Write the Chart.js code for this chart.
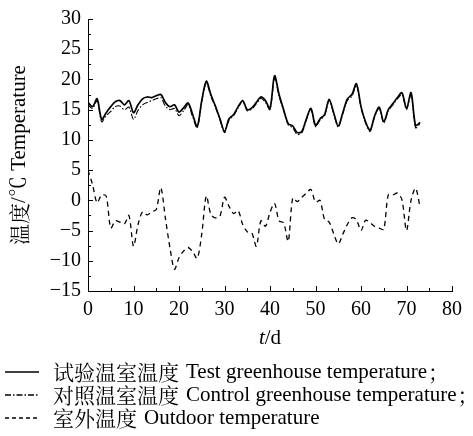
<!DOCTYPE html>
<html>
<head>
<meta charset="utf-8">
<script src="https://cdn.jsdelivr.net/npm/chart.js@4"></script>
<style>
html,body{margin:0;padding:0;background:#fff;}
#wrap{width:473px;height:436px;position:relative;}
</style>
</head>
<body>
<div id="wrap"><canvas id="c" width="473" height="436"></canvas></div>
<script>
// days 0..73
const days = [0,1,2,3,4,5,6,7,8,9,10,11,12,13,14,15,16,17,18,19,20,21,22,23,24,25,26,27,28,29,30,31,32,33,34,35,36,37,38,39,40,41,42,43,44,45,46,47,48,49,50,51,52,53,54,55,56,57,58,59,60,61,62,63,64,65,66,67,68,69,70,71,72,73];

const testTemp = [16.2,15.5,16.8,13.4,14.5,15.5,16.3,16.5,15.8,16.5,14.5,15.8,16.8,17.1,17.0,17.3,17.5,16.2,15.5,15.8,14.6,15.3,16.1,14.2,12.2,16.5,19.7,17.5,15.6,13.5,11.4,13.5,14.2,15.5,16.5,15.0,15.3,16.2,17.1,16.5,15.2,20.6,17.5,15.0,12.7,12.3,11.2,11.4,13.5,15.2,12.4,13.5,14.2,16.7,14.5,12.3,14.5,16.8,17.5,19.3,15.5,13.0,11.6,14.0,15.4,13.0,15.0,16.0,17.0,17.8,15.2,17.8,12.4,12.9];

const controlTemp = [15.8,15.2,16.5,13.0,14.0,14.7,15.5,15.6,15.0,15.4,13.4,14.9,15.8,16.2,16.5,16.8,17.0,15.6,15.0,15.2,14.0,14.8,15.8,13.8,12.0,16.3,19.4,17.2,15.4,13.3,11.2,13.3,14.0,15.3,16.4,14.8,15.1,16.0,16.9,16.2,15.0,20.2,17.2,14.8,12.5,12.0,10.9,11.2,13.3,15.0,12.2,13.3,14.0,16.5,14.3,12.1,14.3,16.5,17.2,19.0,15.3,12.8,11.4,13.8,15.2,12.8,14.8,15.8,16.8,17.5,15.0,17.5,12.0,12.7];

const outdoorTemp = [5.0,2.6,-0.4,0.9,0.7,-4.6,-3.4,-3.6,-3.9,-2.5,-7.6,-4.0,-1.9,-2.4,-1.9,-1.5,2.1,-2.9,-7.8,-11.4,-9.5,-8.4,-7.8,-8.5,-9.6,-5.6,0.7,-2.3,-2.9,-2.6,0.5,-1.0,-2.2,-1.7,-4.0,-5.2,-5.4,-7.6,-3.4,-4.3,-2.0,-0.5,-3.4,-3.7,-6.8,0.4,-0.2,0.5,1.2,1.8,-0.3,0,-3.2,-3.6,-5.5,-7.2,-5.6,-4.0,-2.9,-3.2,-5.0,-3.3,-3.7,-4.3,-4.6,-4.8,0.9,0.9,1.2,0.1,-5.0,0,2.0,-1.2];

const legendCn = ["试验温室温度","对照温室温度","室外温度"];
const legendEn = ["Test greenhouse temperature","Control greenhouse temperature","Outdoor temperature"];
const legendEnd = ["；","；",""];
const dashes = [[], [6,2,1.5,2], [4,3]];

const serif = "'Liberation Serif','Noto Serif CJK SC','Noto Sans CJK SC',serif";
const cjk = "'Noto Serif CJK SC','Noto Sans CJK SC',serif";

function pts(vals){
return days.map((d,i)=>({x:d,y:vals[i]}));
}

/* -----------------------------
   INWARD TICKS + LEGEND + TITLES
------------------------------ */
const extras = {
id:"extras",
afterDraw(chart){
const ctx = chart.ctx;
const xs = chart.scales.x, ys = chart.scales.y;
const a = chart.chartArea;
ctx.save();
ctx.strokeStyle="#000";
ctx.fillStyle="#000";
ctx.lineWidth=1;
ctx.setLineDash([]);
ctx.beginPath();
for(let v=0;v<=80;v+=5){
let px=Math.round(xs.getPixelForValue(v))+0.5;
let len = v%10===0 ? 5 : 3;
ctx.moveTo(px,a.bottom);
ctx.lineTo(px,a.bottom-len);
}
for(let v=-15;v<=30;v+=2.5){
let py=Math.round(ys.getPixelForValue(v))+0.5;
let len = v%5===0 ? 5 : 3;
ctx.moveTo(a.left,py);
ctx.lineTo(a.left+len,py);
}
ctx.stroke();

// y title, rotated
ctx.save();
ctx.translate(19,(a.top+a.bottom)/2);
ctx.rotate(-Math.PI/2);
ctx.textBaseline="middle";
ctx.font="21px "+cjk;
let c1=ctx.measureText("温度").width;
ctx.font="21px "+serif;
let c2=ctx.measureText("/℃ Temperature").width;
let sx=-(c1+c2)/2;
ctx.font="21px "+cjk;
ctx.textAlign="left";
ctx.fillText("温度",sx,0);
ctx.font="21px "+serif;
ctx.fillText("/℃ Temperature",sx+c1,0);
ctx.restore();

// x title "t/d"
ctx.textBaseline="middle";
ctx.textAlign="left";
ctx.font="italic 21px "+serif;
let w1=ctx.measureText("t").width;
ctx.font="21px "+serif;
let w2=ctx.measureText("/d").width;
let cx=(a.left+a.right)/2-(w1+w2)/2;
ctx.font="italic 21px "+serif;
ctx.fillText("t",cx,338);
ctx.font="21px "+serif;
ctx.fillText("/d",cx+w1,338);

// legend
let ly=[372,395,418];
legendCn.forEach((t,i)=>{
ctx.beginPath();
ctx.setLineDash(dashes[i]);
ctx.lineWidth=1.3;
ctx.moveTo(5,ly[i]);
ctx.lineTo(39,ly[i]);
ctx.stroke();
ctx.setLineDash([]);
ctx.font="21px "+cjk;
ctx.fillText(t,53,ly[i]);
let tw=ctx.measureText(t).width;
ctx.font="21px "+serif;
let ex=53+tw+7;
ctx.fillText(legendEn[i],ex,ly[i]);
let ew=ctx.measureText(legendEn[i]).width;
if(legendEnd[i]){
ctx.font="21px "+cjk;
ctx.fillText(legendEnd[i],ex+ew+1,ly[i]);
}
});
ctx.restore();
}
};

/* -----------------------------
   CHART
------------------------------ */
new Chart(document.getElementById("c"),{
type:"line",
data:{
datasets:[
{label:"test",data:pts(testTemp),borderColor:"#000",borderWidth:1.7,pointRadius:0,tension:0.3},
{label:"control",data:pts(controlTemp),borderColor:"#000",borderWidth:1.1,borderDash:[6,2,1.5,2],pointRadius:0,tension:0.3},
{label:"outdoor",data:pts(outdoorTemp),borderColor:"#000",borderWidth:1.3,borderDash:[5,4],pointRadius:0,tension:0.3}
]
},
options:{
responsive:false,
animation:false,
layout:{padding:{left:0,right:21,top:17,bottom:0}},
plugins:{legend:{display:false},tooltip:{enabled:false}},
scales:{
x:{
type:"linear",min:0,max:80,
ticks:{stepSize:10,color:"#000",padding:7,font:{family:serif,size:20},maxRotation:0},
grid:{display:false,drawTicks:false},
border:{display:true,color:"#000",width:1},
afterFit(s){s.height=145;}
},
y:{
min:-15,max:30,
ticks:{stepSize:5,color:"#000",padding:7,font:{family:serif,size:20},
callback:v=>String(v).replace("-","\u2212")},
grid:{display:false,drawTicks:false},
border:{display:true,color:"#000",width:1},
afterFit(s){s.width=88;}
}
}
},
plugins:[extras]
});
</script>
</body>
</html>
